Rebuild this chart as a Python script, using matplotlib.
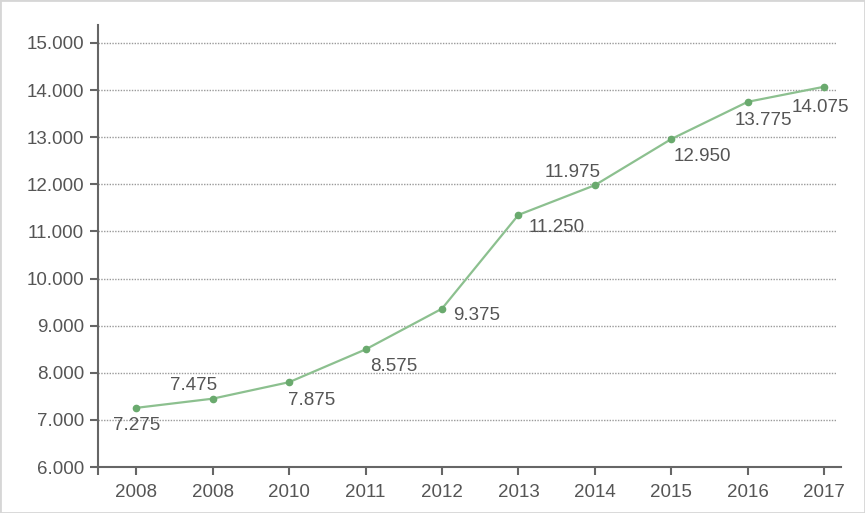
import matplotlib
matplotlib.use("Agg")
import matplotlib.pyplot as plt
from matplotlib.patches import Rectangle

years = ["2008", "2008", "2010", "2011", "2012", "2013", "2014", "2015", "2016", "2017"]
# point heights
values = [7255, 7450, 7800, 8495, 9360, 11350, 11980, 12960, 13750, 14070]
# data label texts as printed in the picture
labels = ["7.275", "7.475", "7.875", "8.575", "9.375", "11.250", "11.975", "12.950", "13.775", "14.075"]
yticks = [6000, 7000, 8000, 9000, 10000, 11000, 12000, 13000, 14000, 15000]
ytick_labels = ["6.000", "7.000", "8.000", "9.000", "10.000", "11.000", "12.000", "13.000", "14.000", "15.000"]

# label offsets in pixels (layout)
offsets = [(0, -18), (-19, 13), (23, -18), (28, -17), (35, -7),
           (38, -13), (-22, 13), (31, -17), (16, -19), (-4, -21)]

plt.rcParams['font.family'] = ['Liberation Sans', 'DejaVu Sans']
txt = '#555555'

fig = plt.figure(figsize=(8.65, 5.13), dpi=100)
fig.patches.append(Rectangle((0, 0), 1, 1, transform=fig.transFigure, fill=False,
                             edgecolor='#d6d6d6', linewidth=2))
ax = fig.add_axes([98/865, 1-467/513, (841-98)/865, (467-25)/513])

x = list(range(len(years)))
ax.hlines(yticks[1:], -0.5, 9.15, colors='#9a9a9a', linestyles=(0, (1, 1)), linewidth=1, zorder=1)
ax.plot(x, values, color='#8cc08f', linewidth=1.6, zorder=2)
ax.plot(x, values, 'o', color='#6aaa6e', markersize=4.5, zorder=3)

for xi, v, lab, (dx, dy) in zip(x, values, labels, offsets):
    ax.annotate(lab, (xi, v), xytext=(dx, dy), textcoords='offset pixels',
                ha='center', va='center', fontsize=13.5, color=txt)

ax.set_xlim(-0.5, 9.22)
ax.set_ylim(6000, 15380)
ax.set_xticks(x)
ax.set_xticklabels(years)
ax.set_xticks([-0.5], minor=True)
ax.set_yticks(yticks)
ax.set_yticklabels(ytick_labels)

for s in ['top', 'right']:
    ax.spines[s].set_visible(False)
for s in ['left', 'bottom']:
    ax.spines[s].set_color('#666666')
    ax.spines[s].set_linewidth(1.5)
ax.tick_params(axis='both', which='both', direction='out', length=6, width=1.5,
               color='#666666', labelcolor=txt, labelsize=13.5)
ax.tick_params(axis='x', pad=6)
ax.tick_params(axis='y', pad=4)

fig.savefig('out.png', dpi=100)
